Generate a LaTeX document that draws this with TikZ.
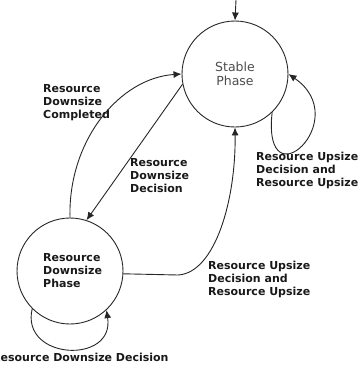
\documentclass[tikz,border=0pt]{standalone}
\usepackage{fontspec}
\setmainfont{DejaVu Sans}
\usetikzlibrary{arrows.meta}
\begin{document}
\begin{tikzpicture}[x=1pt,y=-1pt,
  phase/.style={circle,draw=black!85,line width=0.9pt,minimum size=106pt,inner sep=0pt},
  lbl/.style={anchor=west,inner sep=0pt,align=left,font=\bfseries\fontsize{11}{13}\selectfont,text=black!90},
  conn/.style={draw=black!85,line width=0.9pt,-{Latex[length=8pt,width=7pt]}}
]
\useasboundingbox (0,0) rectangle (361,365);

% states
\node[phase,font=\fontsize{12.5}{14}\selectfont,text=black!70,align=center] (stable) at (235,74) {Stable\\Phase};
\node[phase] (ds) at (70,271) {};
\node[lbl] (dstext) at (43,271) {Resource\\Downsize\\Phase};

% initial arrow
\coordinate (init) at (236,0);
\draw[conn] (init) -- (stable.north);

% transitions
\draw[conn] (stable.-46) .. controls (262,205) and (355,120) .. (stable.0);
\draw[conn] (ds.-135) .. controls (20,360) and (115,365) .. (ds.-47);
\draw[conn] (ds.-3) -- (178,275) .. controls (215,273) and (236,200) .. (stable.south);
\draw[conn] (ds.north) .. controls (68,140) and (120,78) .. (stable.180);
\draw[conn] (stable.191) -- (ds.72);

% labels
\node[lbl] (l1) at (43,103) {Resource\\Downsize\\Completed};
\node[lbl] (l2) at (130,176) {Resource\\Downsize\\Decision};
\node[lbl] (l3) at (256,170) {Resource Upsize\\Decision and\\Resource Upsize};
\node[lbl] (l4) at (208,279) {Resource Upsize\\Decision and\\Resource Upsize};
\node[lbl] (l5) at (-8,357) {Resource Downsize Decision};
\end{tikzpicture}
\end{document}
